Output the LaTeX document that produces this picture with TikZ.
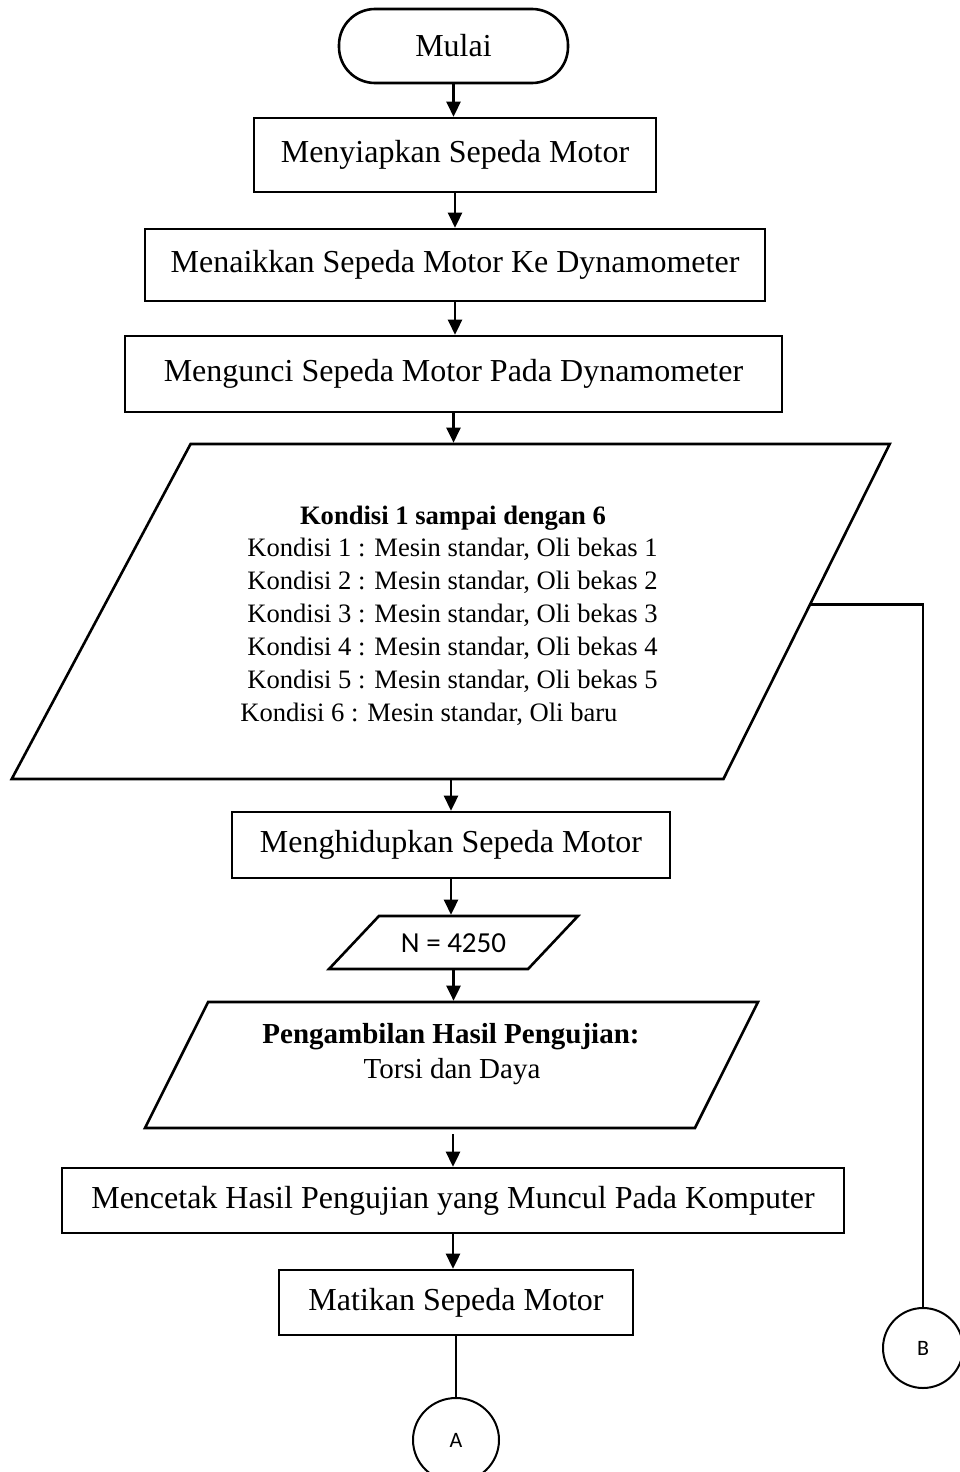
\documentclass[tikz,border=0pt]{standalone}
\usepackage{fontspec}
\setmainfont{Liberation Serif}
\newfontfamily\calib{Carlito}
\usetikzlibrary{arrows.meta}
\usetikzlibrary{shapes.geometric}
\usetikzlibrary{calc}

\begin{document}
\begin{tikzpicture}[
    x=0.5pt, y=-0.5pt,
    >={Triangle[length=7.5pt,width=7pt]}, line width=1.3pt,
    every node/.style={font=\fontsize{16}{19}\selectfont}
  ]

  % styles
  \tikzstyle{term}=[draw, rounded corners=18pt, minimum width=114.5pt, minimum height=37pt]
  \tikzstyle{proc}=[draw, minimum height=37pt]
  \tikzstyle{io}=[draw, trapezium, trapezium stretches body, inner xsep=0pt]
  \tikzstyle{conn}=[draw, ellipse, line width=1pt, font=\calib\fontsize{11}{13}\selectfont]
  \tikzstyle{kline}=[anchor=base west, inner sep=0pt, font=\fontsize{13.3}{16}\selectfont]
  \tikzstyle{flow}=[->]

  \useasboundingbox (0,0) rectangle (959,1472);

  % start and first steps
  \node[term] (mulai) at (453.5,46) {Mulai};
  \node[proc, minimum width=201pt] (siap) at (455,155) {Menyiapkan Sepeda Motor};
  \node[proc, minimum width=310pt, minimum height=36pt] (naik) at (455,265) {Menaikkan Sepeda Motor Ke Dynamometer};
  \node[proc, minimum width=328.5pt, minimum height=38pt] (kunci) at (453.5,374) {Mengunci Sepeda Motor Pada Dynamometer};

  % input: the six conditions
  \node[io, inner ysep=83.75pt, minimum width=439pt,
        trapezium left angle=61.9, trapezium right angle=116.4] (kondisi) at (457,611.5) {};
  \node[anchor=base, font=\bfseries\fontsize{13.3}{16}\selectfont] (kjudul) at (453,524) {Kondisi 1 sampai dengan 6};
  \foreach \i in {1,...,5}
    \node[kline] (k\i) at (246,{556+33*(\i-1)}) {Kondisi \i{} : Mesin standar, Oli bekas \i};
  \node[kline] (k6) at (239,721) {Kondisi 6 : Mesin standar, Oli baru};
  \coordinate (kout) at ($(kondisi.top right corner)!0.48!(kondisi.bottom right corner)$);

  % running the test
  \node[proc, minimum width=219pt, minimum height=33pt] (hidup) at (451,845) {Menghidupkan Sepeda Motor};
  \node[io, text height=9.5pt, text depth=0pt, inner ysep=8.5pt, minimum width=124.5pt,
        trapezium left angle=46.7, trapezium right angle=133.3,
        font=\calib\fontsize{14.5}{17}\selectfont] (rpm) at (453.5,942.5) {N = 4250};
  \node[io, inner ysep=31.5pt, minimum width=306.5pt,
        trapezium left angle=63.4, trapezium right angle=116.6] (ambil) at (451.5,1065) {};
  \node[anchor=base, font=\bfseries\fontsize{14.5}{17}\selectfont] (ajudul) at (451,1043) {Pengambilan Hasil Pengujian:};
  \node[anchor=base, font=\fontsize{14.5}{17}\selectfont] (ahasil) at (452,1078) {Torsi dan Daya};

  \node[proc, minimum width=391pt, minimum height=32.5pt] (cetak) at (453,1200.5) {Mencetak Hasil Pengujian yang Muncul Pada Komputer};
  \node[proc, minimum width=177pt, minimum height=32.5pt] (mati) at (456,1302.5) {Matikan Sepeda Motor};

  % off-page connectors
  \node[conn, minimum width=43pt, minimum height=42pt] (A) at (456,1440) {A};
  \node[conn, minimum width=40pt, minimum height=40pt] (B) at (923,1348) {B};

  % edges
  \draw[flow] (mulai.south) -- (mulai.south |- siap.north);
  \draw[flow] (siap.south) -- (siap.south |- naik.north);
  \draw[flow] (naik.south) -- (naik.south |- kunci.north);
  \draw[flow] (kunci.south) -- (kunci.south |- kondisi.north);
  \draw[flow] (hidup.north |- kondisi.south) -- (hidup.north);
  \draw[flow] (hidup.south) -- (hidup.south |- rpm.north);
  \draw[flow] (rpm.south) -- (rpm.south |- ambil.north);
  \draw[flow, shorten <=2.5pt] (cetak.north |- ambil.south) -- (cetak.north);
  \draw[flow] (cetak.south) -- (cetak.south |- mati.north);
  \draw (mati.south) -- (A.north);
  \draw (kout) -| (B.north);

\end{tikzpicture}
\end{document}
